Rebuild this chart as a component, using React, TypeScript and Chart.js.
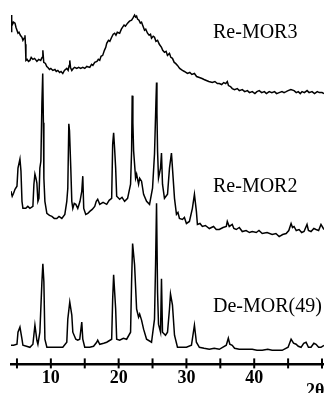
import React, { useEffect, useRef } from "react";
import { Chart, registerables } from "chart.js";

Chart.register(...registerables);

// 2θ (deg) vs. stacked intensity (a.u., offsets included)
const reMor3: [number, number][] = [
  [4.12,347],[4.18,330],[4.26,342],[4.35,338],[4.5,340],[4.71,339],[4.85,335],[5.0,332],[5.15,329],[5.3,330],[5.5,327],[5.74,325],[5.88,322],[6.05,324],[6.18,327],[6.25,318],[6.32,302],[6.5,303],[6.7,301],[6.91,302],[7.1,305],[7.35,303],[7.6,304],[7.94,301],[8.2,303],[8.5,302],[8.7,305],[8.82,312],[8.95,300],[9.2,299],[9.4,296],[9.56,295],[9.8,293],[10.0,294],[10.29,292],[10.6,293],[10.8,291],[11.03,292],[11.3,290],[11.5,291],[11.76,289],[12.0,292],[12.35,294],[12.55,292],[12.7,297],[12.79,302],[12.9,295],[13.09,292],[13.3,294],[13.5,295],[13.82,294],[14.1,295],[14.4,294],[14.71,295],[15.0,294],[15.3,296],[15.74,295],[16.0,298],[16.2,297],[16.47,300],[16.8,301],[17.0,303],[17.21,302],[17.4,306],[17.65,307],[17.9,312],[18.1,315],[18.24,319],[18.5,322],[18.7,321],[18.97,325],[19.2,328],[19.41,329],[19.6,327],[19.8,330],[20.15,329],[20.4,333],[20.59,335],[20.8,337],[21.0,336],[21.32,339],[21.6,341],[21.91,342],[22.1,344],[22.35,347],[22.5,345],[22.65,346],[22.79,343],[23.0,342],[23.2,339],[23.38,340],[23.6,336],[23.82,332],[24.0,333],[24.26,329],[24.5,327],[24.7,328],[24.85,324],[25.1,326],[25.29,325],[25.5,321],[25.74,322],[26.0,318],[26.32,315],[26.5,312],[26.76,310],[27.0,311],[27.2,307],[27.5,309],[27.7,305],[27.94,304],[28.2,300],[28.4,299],[28.68,297],[29.0,294],[29.41,292],[29.7,291],[30.15,289],[30.5,290],[30.8,288],[31.18,289],[31.5,286],[31.91,285],[32.3,284],[32.6,283],[32.94,282],[33.3,281],[33.82,280],[34.2,281],[34.56,279],[34.85,279],[35.2,278],[35.5,280],[35.8,279],[36.03,281],[36.2,277],[36.5,276],[36.76,274],[37.1,273],[37.5,274],[37.8,272],[38.24,273],[38.6,271],[39.0,272],[39.3,270],[39.71,271],[40.1,269],[40.4,271],[40.74,272],[41.1,270],[41.5,271],[41.8,269],[42.21,271],[42.6,270],[43.0,271],[43.3,269],[43.68,270],[44.1,271],[44.4,270],[44.71,271],[45.0,272],[45.4,273],[45.88,272],[46.2,270],[46.5,271],[46.8,269],[47.06,271],[47.4,270],[47.8,272],[48.1,270],[48.53,271],[48.9,269],[49.3,271],[49.6,270],[50.0,270],[50.3,269]
];

const reMor2: [number, number][] = [
  [4.12,172],[4.3,167],[4.5,170],[4.71,174],[5.0,177],[5.15,195],[5.44,204],[5.59,192],[5.74,162],[5.88,155],[6.3,155],[6.6,157],[6.91,155],[7.35,157],[7.5,179],[7.65,189],[7.8,185],[7.94,180],[8.09,162],[8.24,165],[8.38,195],[8.53,202],[8.68,260],[8.8,289],[8.9,240],[8.97,185],[9.12,162],[9.41,150],[9.8,148],[10.15,147],[10.5,145],[10.88,145],[11.2,147],[11.62,145],[12.06,149],[12.35,162],[12.5,175],[12.65,239],[12.75,232],[12.94,195],[13.09,162],[13.24,155],[13.45,160],[13.68,159],[13.97,155],[14.3,162],[14.56,172],[14.71,187],[14.85,155],[15.15,149],[15.45,150],[15.74,152],[16.1,154],[16.47,157],[16.7,162],[16.91,164],[17.21,159],[17.7,161],[18.24,159],[18.6,163],[18.97,165],[19.12,219],[19.26,230],[19.4,215],[19.56,195],[19.71,167],[20.15,164],[20.5,166],[20.88,162],[21.32,165],[21.76,179],[21.91,212],[22.0,267],[22.1,240],[22.21,212],[22.5,185],[22.65,189],[22.94,179],[23.1,185],[23.38,182],[23.68,169],[24.12,162],[24.56,159],[25.0,175],[25.29,209],[25.5,260],[25.59,280],[25.65,250],[25.74,212],[25.88,185],[26.18,195],[26.32,210],[26.47,179],[26.76,165],[27.21,169],[27.5,195],[27.79,210],[27.94,195],[28.24,165],[28.53,149],[28.75,151],[28.97,145],[29.41,144],[29.7,146],[30.0,140],[30.44,142],[30.88,155],[31.18,169],[31.47,152],[31.62,139],[32.0,140],[32.35,137],[32.8,138],[33.38,135],[34.0,137],[34.4,134],[34.85,134],[35.4,136],[35.88,137],[36.03,142],[36.32,137],[36.76,139],[37.0,135],[37.35,134],[37.8,136],[38.24,132],[38.8,133],[39.3,131],[39.71,132],[40.3,131],[40.7,133],[41.18,130],[41.9,131],[42.65,129],[43.2,130],[43.68,127],[44.2,129],[44.71,130],[45.1,133],[45.44,140],[45.65,136],[45.88,137],[46.2,133],[46.62,134],[47.0,131],[47.35,132],[47.79,139],[48.0,133],[48.38,132],[48.8,135],[49.12,134],[49.5,133],[49.85,139],[50.29,134]
];

const deMor49: [number, number][] = [
  [4.12,19],[4.5,19],[5.0,20],[5.15,32],[5.44,37],[5.74,25],[5.88,19],[6.4,18],[6.91,17],[7.35,20],[7.65,39],[7.94,24],[8.09,20],[8.38,32],[8.68,82],[8.82,100],[8.97,82],[9.12,25],[9.41,17],[10.1,17],[10.88,17],[11.76,17],[12.35,22],[12.5,45],[12.79,62],[13.09,49],[13.24,32],[13.68,25],[13.97,24],[14.26,25],[14.56,42],[14.71,25],[15.0,17],[15.74,17],[16.3,18],[16.76,22],[16.91,24],[17.21,20],[17.8,21],[18.24,22],[18.97,25],[19.12,65],[19.26,89],[19.56,55],[19.71,25],[20.15,24],[20.7,26],[21.18,25],[21.76,32],[21.91,82],[22.06,120],[22.35,99],[22.65,55],[22.94,47],[23.1,50],[23.38,44],[23.68,35],[24.12,25],[24.85,22],[25.29,45],[25.45,100],[25.59,160],[25.74,72],[25.88,40],[26.18,32],[26.32,85],[26.47,32],[26.91,29],[27.21,32],[27.5,55],[27.65,70],[27.94,59],[28.24,29],[28.68,17],[29.3,17],[30.0,17],[30.74,19],[31.18,39],[31.47,22],[31.91,17],[32.6,16],[33.38,15],[34.1,16],[34.85,15],[35.88,19],[36.18,26],[36.4,20],[36.76,19],[37.1,16],[37.79,15],[38.7,15],[39.71,15],[40.4,14],[41.18,14],[42.0,15],[42.65,14],[43.4,14],[44.12,14],[45.0,17],[45.44,25],[45.8,21],[46.18,20],[46.5,18],[46.91,17],[47.3,21],[47.65,22],[48.0,17],[48.38,17],[48.8,21],[49.12,20],[49.5,17],[49.85,17],[50.29,19]
];

const seriesNames = ["Re-MOR3", "Re-MOR2", "De-MOR(49)"];
const tickValues = [5, 10, 15, 20, 25, 30, 35, 40, 45, 50];
const labeledTicks = [10, 20, 30, 40];
const axisTitle = "2θ";

const SERIF = "'Liberation Serif', 'Times New Roman', serif";

export default function App() {
  const canvasRef = useRef<HTMLCanvasElement | null>(null);

  useEffect(() => {
    const canvas = canvasRef.current;
    if (!canvas) return;

    const annotate = {
      id: "annotate",
      afterDraw(chart: any) {
        const { ctx, scales } = chart;
        const xs = scales.x;
        const axisY = xs.top;
        ctx.save();
        ctx.strokeStyle = "#000";
        ctx.lineWidth = 2;
        tickValues.forEach((v) => {
          const px = xs.getPixelForValue(v);
          ctx.beginPath();
          ctx.moveTo(px, axisY - 6);
          ctx.lineTo(px, axisY + 4);
          ctx.stroke();
        });
        ctx.fillStyle = "#000";
        ctx.textBaseline = "middle";
        ctx.textAlign = "left";
        ctx.font = `20px ${SERIF}`;
        const labelPos: [number, number][] = [
          [213, 33],
          [213, 187],
          [213, 307],
        ];
        seriesNames.forEach((name, i) => {
          ctx.fillText(name, labelPos[i][0], labelPos[i][1]);
        });
        ctx.textBaseline = "alphabetic";
        ctx.font = `bold 18px ${SERIF}`;
        ctx.fillText(axisTitle, 306, 396);
        ctx.restore();
      },
    };

    const mk = (pts: [number, number][]) => ({
      data: pts.map(([x, y]) => ({ x, y })),
      borderColor: "#000",
      borderWidth: 1.5,
      pointRadius: 0,
      tension: 0,
      fill: false,
    });

    const chart = new Chart(canvas, {
      type: "line",
      data: {
        datasets: [
          { label: seriesNames[0], ...mk(reMor3) },
          { label: seriesNames[1], ...mk(reMor2) },
          { label: seriesNames[2], ...mk(deMor49) },
        ],
      },
      options: {
        responsive: false,
        animation: false,
        layout: { padding: { left: 11, right: 0, top: 0, bottom: 1 } },
        plugins: {
          legend: { display: false },
          tooltip: { enabled: false },
        },
        scales: {
          x: {
            type: "linear",
            min: 4.12,
            max: 50.29,
            afterBuildTicks: (scale: any) => {
              scale.ticks = tickValues.map((v) => ({ value: v }));
            },
            ticks: {
              autoSkip: false,
              maxRotation: 0,
              padding: 3,
              color: "#000",
              font: { family: SERIF, size: 18, weight: "bold" },
              callback: (v: any) => (labeledTicks.includes(Number(v)) ? String(v) : ""),
            },
            grid: { display: false, drawTicks: false },
            border: { display: true, color: "#000", width: 2.5 },
          },
          y: { display: false, min: 0, max: 362 },
        },
      },
      plugins: [annotate],
    } as any);

    return () => chart.destroy();
  }, []);

  return (
    <div style={{ position: "fixed", left: 0, top: 0, width: 325, height: 393, background: "#fff" }}>
      <canvas ref={canvasRef} width={325} height={393} style={{ display: "block" }} />
    </div>
  );
}
